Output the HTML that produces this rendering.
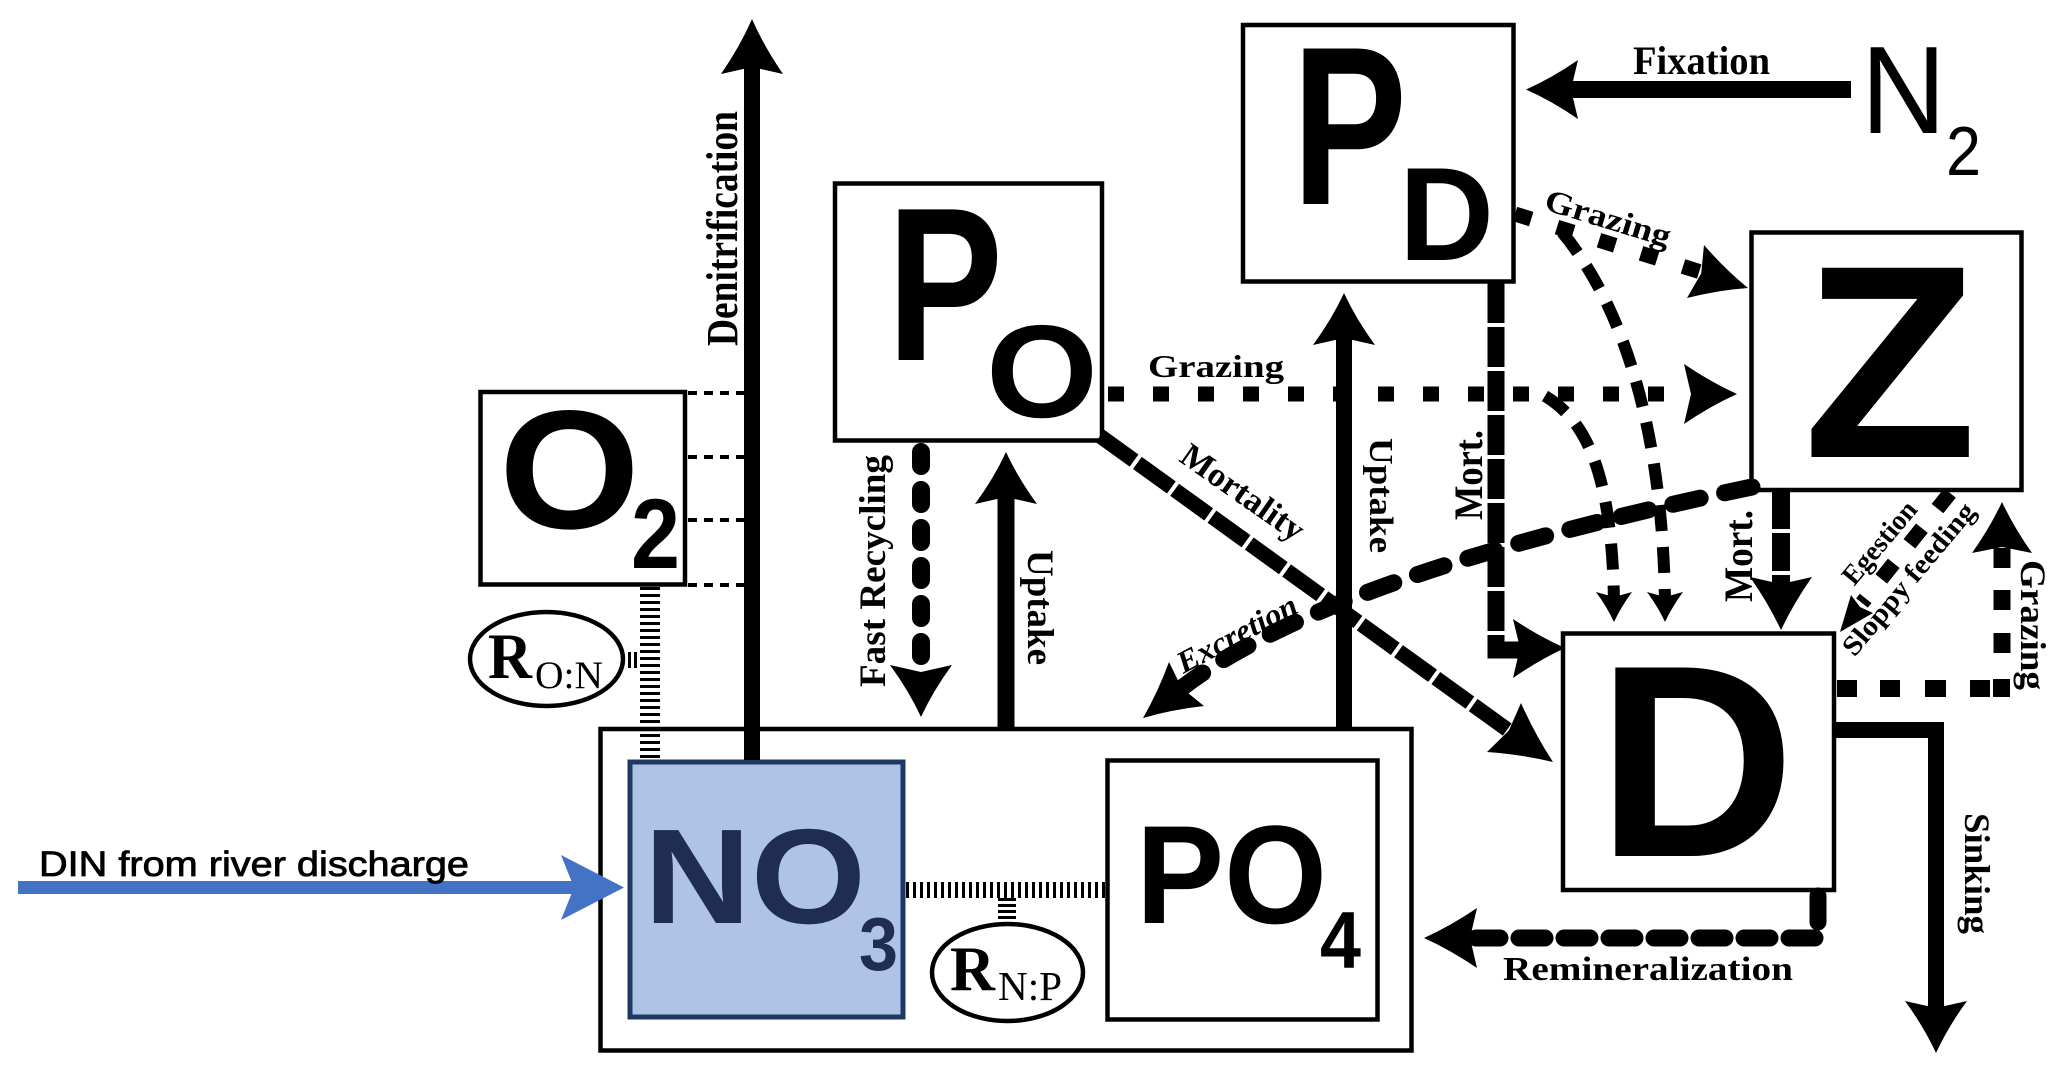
<!DOCTYPE html>
<html>
<head>
<meta charset="utf-8">
<style>
html,body{margin:0;padding:0;background:#fff;}
svg{display:block;}
</style>
</head>
<body>
<svg width="2067" height="1072" viewBox="0 0 2067 1072" xmlns="http://www.w3.org/2000/svg">
<rect width="2067" height="1072" fill="#fff"/>

<!-- Boxes -->
<rect x="630" y="762" width="273" height="255" fill="#aec3e6" stroke="#1f3864" stroke-width="5"/>
<g fill="none" stroke="#000" stroke-width="4.5">
  <rect x="480.5" y="392" width="204.5" height="192.5"/>
  <rect x="835" y="183.5" width="267" height="257"/>
  <rect x="1243" y="25" width="270.5" height="256.5"/>
  <rect x="1751.5" y="232.5" width="270" height="257.5"/>
  <rect x="1563" y="633.5" width="271" height="256.5"/>
  <rect x="600.5" y="729" width="811" height="321.5"/>
  <rect x="1107.5" y="760.5" width="270" height="259"/>
  <ellipse cx="546.5" cy="659" rx="76.5" ry="47"/>
  <ellipse cx="1007.5" cy="972.5" rx="75.5" ry="48.5"/>
</g>

<!-- Solid connectors -->
<g stroke="#000" fill="none">
  <line x1="752" y1="760" x2="752" y2="66" stroke-width="16"/>
  <line x1="1562" y1="89.5" x2="1851" y2="89.5" stroke-width="17"/>
  <line x1="1344" y1="729" x2="1344" y2="338" stroke-width="16"/>
  <line x1="1006" y1="729" x2="1006" y2="497" stroke-width="17"/>
  <path d="M1834,730 H1936 V1008" stroke-width="16"/>
</g>

<!-- Dashed connectors -->
<g stroke="#000" fill="none">
  <path d="M921,452 V660" stroke-width="18" stroke-linecap="round" stroke-dasharray="14 24"/>
  <path d="M1818,896 V938 H1476" stroke-width="17" stroke-linecap="round" stroke-linejoin="round" stroke-dasharray="26 19"/>
  <path d="M1100,436 L1512,733" stroke-width="15" stroke-dasharray="42 4"/>
  <path d="M1496,283 V650 H1524" stroke-width="17" stroke-dasharray="40 4"/>
  <path d="M1781,491 V590" stroke-width="18" stroke-dasharray="38 4"/>
  <path d="M1108,394 H1672" stroke-width="15" stroke-dasharray="16 29"/>
  <path d="M1515,214 L1704,273" stroke-width="15" stroke-dasharray="17 27"/>
  <path d="M1562,232 C1610,290 1662,400 1665,602" stroke-width="12" stroke-dasharray="26 16"/>
  <path d="M1545,396 C1585,420 1612,470 1614,602" stroke-width="12" stroke-dasharray="26 16"/>
  <path d="M1752,487 Q1330,575 1183,687" stroke-width="17" stroke-linecap="round" stroke-dasharray="28 25"/>
  <path d="M1950,493 L1862,603" stroke-width="15" stroke-dasharray="20 25"/>
  <path d="M688,393 H745 M688,457 H745 M688,520 H745 M688,585 H745" stroke-width="4" stroke-dasharray="9 7"/>
  <!-- hatched ratio connectors -->
  <path d="M650,587 V760" stroke-width="20" stroke-dasharray="3 4"/>
  <path d="M906,890 H1105" stroke-width="16" stroke-dasharray="3 4"/>
  <path d="M1007,898 V922" stroke-width="18" stroke-dasharray="3 3"/>
</g>
<rect x="628" y="652" width="3" height="16" fill="#000"/>
<rect x="634" y="652" width="3" height="16" fill="#000"/>

<!-- Grazing D -> Z square dashes -->
<g fill="#000">
  <rect x="1837" y="680" width="20" height="17"/>
  <rect x="1880" y="680" width="20" height="17"/>
  <rect x="1925" y="680" width="21" height="17"/>
  <rect x="1970" y="680" width="20" height="17"/>
  <rect x="1993" y="679" width="17" height="18"/>
  <rect x="1993.5" y="633" width="17" height="20"/>
  <rect x="1993.5" y="590" width="17" height="20"/>
  <rect x="1993.5" y="548" width="17" height="20"/>
</g>

<!-- Blue river arrow -->
<line x1="18" y1="887.5" x2="576" y2="887.5" stroke="#4472c4" stroke-width="13"/>
<path d="M624,887.5 L561,855 L574,887.5 L561,920 Z" fill="#4472c4"/>

<!-- Arrowheads -->
<g fill="#000">
  <path d="M752,19 Q764,46.5 783,74 L752,67 L721,74 Q740,46.5 752,19Z"/>
  <path d="M1526,89.5 Q1552,78 1578,60 L1571,89.5 L1578,119 Q1552,101 1526,89.5Z"/>
  <path d="M1344,293 Q1356,319 1375,345 L1344,338 L1313,345 Q1332,319 1344,293Z"/>
  <path d="M1006,452 Q1018,478 1037,504 L1006,497 L975,504 Q994,478 1006,452Z"/>
  <path d="M921,717 Q933,691 952,665 L921,672 L890,665 Q909,691 921,717Z"/>
  <path d="M1936,1053 Q1948,1027 1967,1001 L1936,1008 L1905,1001 Q1924,1027 1936,1053Z"/>
  <path d="M1424,938 Q1450.5,926 1477,908 L1470,938 L1477,968 Q1450.5,950 1424,938Z"/>
  <path d="M1553,762 Q1521.7,754.5 1487,752 L1508.9,730.5 L1521,703 Q1535.3,735 1553,762Z"/>
  <path d="M1565,648 Q1539,636.5 1513,619 L1520,648 L1513,678 Q1539,660 1565,648Z"/>
  <path d="M1781,630 Q1793.5,603.5 1812,577 L1781,584 L1750,577 Q1768.5,603.5 1781,630Z"/>
  <path d="M1737,394 Q1710.5,382 1684,364 L1691,394 L1684,424 Q1710.5,406 1737,394Z"/>
  <path d="M1748,288 Q1718.4,290.1 1687,298 L1701.2,273.4 L1704,245 Q1725.1,269.4 1748,288Z"/>
  <path d="M1665,622 Q1672,607 1683,592 L1665,597 L1647,592 Q1658,607 1665,622Z"/>
  <path d="M1614,622 Q1621,607 1632,592 L1614,597 L1596,592 Q1607,607 1614,622Z"/>
  <path d="M1143,718 Q1171.7,709.6 1204,706 L1181.6,687.8 L1169,662 Q1157.8,692.4 1143,718Z"/>
  <path d="M1840,632 L1873,613 L1860,607 L1851,595 Z"/>
  <path d="M2002,502 Q2014,527.5 2032,553 L2002,547 L1972,553 Q1990,527.5 2002,502Z"/>
</g>

<!-- Big node letters -->
<g font-family="'Liberation Sans', 'DejaVu Sans', sans-serif" font-weight="bold" fill="#000">
  <text x="499" y="528" font-size="169" textLength="141" lengthAdjust="spacingAndGlyphs">O</text>
  <text x="631" y="568" font-size="99" textLength="49" lengthAdjust="spacingAndGlyphs">2</text>
  <text x="887" y="360" font-size="219" textLength="116" lengthAdjust="spacingAndGlyphs">P</text>
  <text x="986" y="417" font-size="132" textLength="112" lengthAdjust="spacingAndGlyphs">O</text>
  <text x="1292" y="204" font-size="226" textLength="115" lengthAdjust="spacingAndGlyphs">P</text>
  <text x="1399" y="260" font-size="133" textLength="95" lengthAdjust="spacingAndGlyphs">D</text>
  <text x="1803" y="457" font-size="275" textLength="174" lengthAdjust="spacingAndGlyphs">Z</text>
  <text x="1597" y="856" font-size="274" textLength="198" lengthAdjust="spacingAndGlyphs">D</text>
  <text x="1136" y="923" font-size="140" textLength="191" lengthAdjust="spacingAndGlyphs">PO</text>
  <text x="1320" y="968" font-size="81" textLength="41" lengthAdjust="spacingAndGlyphs">4</text>
  <text x="644" y="923" font-size="135" textLength="222" lengthAdjust="spacingAndGlyphs" fill="#1f2d50">NO</text>
  <text x="859" y="970" font-size="75" textLength="39" lengthAdjust="spacingAndGlyphs" fill="#1f2d50">3</text>
</g>
<g font-family="'Liberation Sans', 'DejaVu Sans', sans-serif" font-weight="normal" fill="#000">
  <text x="1861" y="133" font-size="124" textLength="85" lengthAdjust="spacingAndGlyphs">N</text>
  <text x="1946" y="175" font-size="70" textLength="35" lengthAdjust="spacingAndGlyphs">2</text>
</g>

<!-- Ratio labels -->
<g font-family="'Liberation Serif', serif" fill="#000">
  <text x="488" y="678" font-size="65" font-weight="bold" textLength="44" lengthAdjust="spacingAndGlyphs">R</text>
  <text x="535" y="688" font-size="39" textLength="68" lengthAdjust="spacingAndGlyphs">O:N</text>
  <text x="950" y="990" font-size="63" font-weight="bold" textLength="45" lengthAdjust="spacingAndGlyphs">R</text>
  <text x="998" y="1000" font-size="41" textLength="64" lengthAdjust="spacingAndGlyphs">N:P</text>
</g>

<!-- Flux labels -->
<g font-family="'Liberation Serif', serif" font-weight="bold" fill="#000">
  <text transform="translate(737,346) rotate(-90)" font-size="44" textLength="235" lengthAdjust="spacingAndGlyphs">Denitrification</text>
  <text x="1633" y="74" font-size="40" textLength="137" lengthAdjust="spacingAndGlyphs">Fixation</text>
  <text x="1148" y="377" font-size="32" textLength="136" lengthAdjust="spacingAndGlyphs">Grazing</text>
  <text transform="translate(1607,221.5) rotate(17)" x="0" y="7" text-anchor="middle" font-size="32" textLength="130" lengthAdjust="spacingAndGlyphs">Grazing</text>
  <text transform="translate(1241,495) rotate(35)" x="0" y="8" text-anchor="middle" font-size="34" textLength="143" lengthAdjust="spacingAndGlyphs">Mortality</text>
  <text transform="translate(1237,634) rotate(-28)" x="0" y="10" text-anchor="middle" font-size="31" font-style="italic" textLength="132" lengthAdjust="spacingAndGlyphs">Excretion</text>
  <text transform="translate(1370,438) rotate(90)" font-size="34" textLength="115" lengthAdjust="spacingAndGlyphs">Uptake</text>
  <text transform="translate(1028,550) rotate(90)" font-size="37" textLength="115" lengthAdjust="spacingAndGlyphs">Uptake</text>
  <text transform="translate(885,687) rotate(-90)" font-size="37" textLength="232" lengthAdjust="spacingAndGlyphs">Fast Recycling</text>
  <text transform="translate(1482,520) rotate(-90)" font-size="40" textLength="90" lengthAdjust="spacingAndGlyphs">Mort.</text>
  <text transform="translate(1752,602) rotate(-90)" font-size="40" textLength="92" lengthAdjust="spacingAndGlyphs">Mort.</text>
  <text transform="translate(1881,544) rotate(-50)" x="0" y="7" text-anchor="middle" font-size="28" textLength="100" lengthAdjust="spacingAndGlyphs">Egestion</text>
  <text transform="translate(1911,581) rotate(-50)" x="0" y="6" text-anchor="middle" font-size="28" textLength="190" lengthAdjust="spacingAndGlyphs">Sloppy feeding</text>
  <text transform="translate(2021,560) rotate(90)" font-size="36" textLength="130" lengthAdjust="spacingAndGlyphs">Grazing</text>
  <text transform="translate(1965,813) rotate(90)" font-size="36" textLength="121" lengthAdjust="spacingAndGlyphs">Sinking</text>
  <text x="1503" y="980" font-size="34" textLength="290" lengthAdjust="spacingAndGlyphs">Remineralization</text>
</g>

<text x="39" y="876" font-family="'Liberation Sans', sans-serif" font-size="35" fill="#000" stroke="#000" stroke-width="0.8" textLength="430" lengthAdjust="spacingAndGlyphs">DIN from river discharge</text>
</svg>
</body>
</html>
